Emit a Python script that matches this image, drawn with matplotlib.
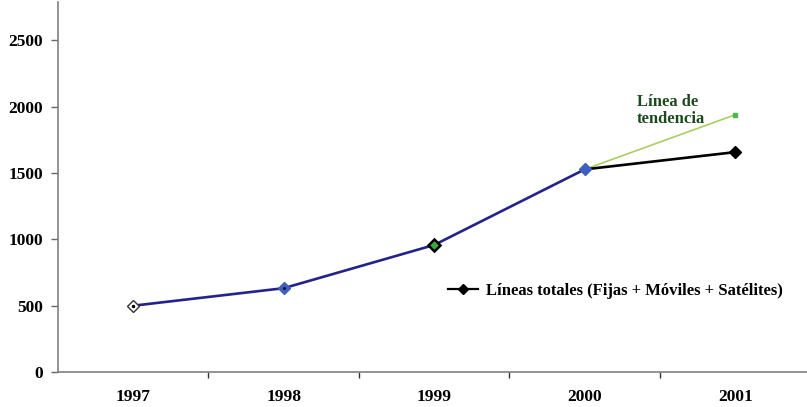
import matplotlib
matplotlib.use("Agg")
import matplotlib.pyplot as plt
from matplotlib.lines import Line2D

plt.rcParams['font.family'] = ['Liberation Serif', 'DejaVu Serif']
plt.rcParams['font.weight'] = 'bold'

years = ['1997', '1998', '1999', '2000', '2001']
total_lines = [500, 632, 958, 1528, 1658]
trend_years = ['2000', '2001']
trend_values = [1528, 1940]
y_ticks = [0, 500, 1000, 1500, 2000, 2500]

marker_faces = ['white', '#3f5fbf', '#2fae3f', '#3f5fbf', 'black']
marker_edges = ['#333333', '#3f5fbf', 'black', '#3f5fbf', 'black']
marker_edge_widths = [1.0, 1.0, 1.8, 1.0, 1.0]

fig = plt.figure(figsize=(8.07, 4.07), dpi=100)
ax = fig.add_axes([58 / 807, 35 / 407, 749 / 807, 370 / 407])

xpos = [i + 0.5 for i in range(len(years))]
tpos = [years.index(y) + 0.5 for y in trend_years]

# trend projection
ax.plot(tpos, trend_values, color='#a9cf62', lw=1.2, zorder=2)
ax.plot(tpos[-1:], trend_values[-1:], ls='none', marker='s', ms=2.5,
        color='#4cb84c', zorder=3)

# historical series: blue up to 2000, black for the last step
ax.plot(xpos[:4], total_lines[:4], color='#23238a', lw=1.9, zorder=3)
ax.plot(xpos[3:], total_lines[3:], color='black', lw=1.9, zorder=3)

for x, v, fc, ec, mw in zip(xpos, total_lines, marker_faces, marker_edges,
                            marker_edge_widths):
    ax.plot([x], [v], ls='none', marker='D', ms=6.5, mfc=fc, mec=ec,
            mew=mw, zorder=4)
ax.plot([xpos[0]], [total_lines[0]], ls='none', marker='o', ms=1.5,
        color='black', zorder=5)
ax.plot([xpos[1]], [total_lines[1]], ls='none', marker='o', ms=1.2,
        color='#111133', zorder=5)

ax.set_xlim(0, 4.977)
ax.set_ylim(0, 2790)
ax.set_yticks(y_ticks)
ax.set_yticklabels([str(t) for t in y_ticks], fontsize=12.5, fontweight='bold')
ax.set_xticks(range(1, 5))
ax.set_xticklabels([])
ax.set_xticks(xpos, minor=True)
ax.set_xticklabels(years, minor=True, fontsize=12.5, fontweight='bold')
ax.tick_params(axis='x', which='minor', length=0, pad=12)
ax.tick_params(axis='x', which='major', length=4, width=1, color='#333333')
ax.tick_params(axis='y', length=5, width=1, color='#666666', pad=6)

for s in ['top', 'right']:
    ax.spines[s].set_visible(False)
ax.spines['left'].set_color('#808080')
ax.spines['bottom'].set_color('#808080')
ax.spines['left'].set_linewidth(1.2)
ax.spines['bottom'].set_linewidth(1.2)

ax.text(637 / 807, 1 - 94 / 407, 'Línea de\ntendencia',
        transform=fig.transFigure, ha='left', va='top', fontsize=12,
        fontweight='bold', color='#1d4a1d', linespacing=1.1)

handle = Line2D([], [], color='black', lw=1.6, marker='D', ms=5,
                mfc='black', mec='black')
fig.legend([handle], ['Líneas totales (Fijas + Móviles + Satélites)'],
           loc='center left', bbox_to_anchor=(448 / 807, 1 - 291 / 407),
           frameon=False, handlelength=1.8, handletextpad=0.5,
           borderaxespad=0, borderpad=0,
           prop={'weight': 'bold', 'size': 12})

fig.savefig('out.png', dpi=100)
